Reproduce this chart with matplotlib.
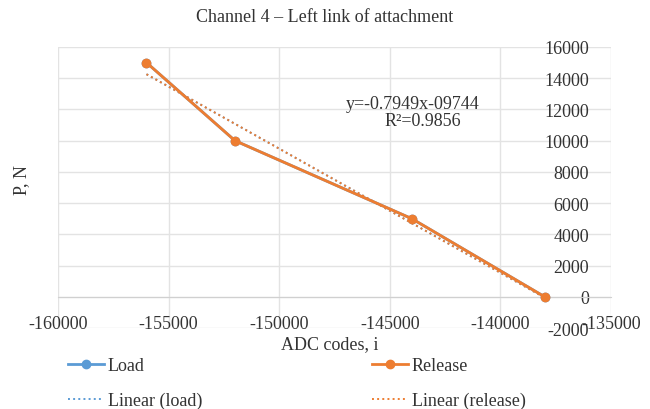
import numpy as np
import matplotlib
matplotlib.use("Agg")
import matplotlib.pyplot as plt
from matplotlib.ticker import MultipleLocator

plt.rcParams['font.family'] = ['Liberation Serif', 'DejaVu Serif']
plt.rcParams['axes.unicode_minus'] = False

# Data
adc_load = [-156000, -152000, -144000, -138000]
p_load = [15000, 10000, 5000, 0]
adc_release = [-156000, -152000, -144000, -138000]
p_release = [15000, 10000, 5000, 0]

title = "Channel 4 \u2013 Left link of attachment"
eq_text = "y=-0.7949x-09744"
r2_text = "R\u00b2=0.9856"

blue = '#5B9BD5'
orange = '#ED7D31'
txt = '#333333'
grid = '#E3E3E3'

fig = plt.figure(figsize=(6.5, 4.1), dpi=100)
ax = fig.add_axes([58/650, 1-329/410, (611-58)/650, (329-48)/410])

ax.set_xlim(-160000, -135000)
ax.set_ylim(-2000, 16000)
ax.xaxis.set_major_locator(MultipleLocator(5000))
ax.yaxis.set_major_locator(MultipleLocator(2000))
ax.grid(True, color=grid, lw=1)
ax.set_axisbelow(True)

for s in ['top', 'right', 'left']:
    ax.spines[s].set_visible(False)
ax.spines['bottom'].set_position(('data', 0))
ax.spines['bottom'].set_color('#D0D0D0')

# trendlines
cl = np.polyfit(adc_load, p_load, 1)
cr = np.polyfit(adc_release, p_release, 1)
xl = np.array([min(adc_load), max(adc_load)])
xr = np.array([min(adc_release), max(adc_release)])

h1, = ax.plot(adc_load, p_load, '-o', color=blue, lw=2, ms=6, label='Load', zorder=3)
h2, = ax.plot(adc_release, p_release, '-o', color=orange, lw=2, ms=6, label='Release', zorder=4)
h3, = ax.plot(xl, np.polyval(cl, xl), ':', color=blue, lw=1.4, label='Linear (load)', zorder=2)
h4, = ax.plot(xr, np.polyval(cr, xr), ':', color=orange, lw=1.4, label='Linear (release)', zorder=5)

ax.tick_params(axis='x', length=0, pad=13, labelsize=13, labelcolor=txt)
ax.tick_params(axis='y', length=0, left=False, labelleft=False, right=False,
               labelright=True, pad=-16, labelsize=13, labelcolor=txt)
for lab in ax.get_yticklabels():
    lab.set_horizontalalignment('right')

fig.text(0.5, 1-17/410, title, ha='center', va='center', fontsize=13, color=txt)
fig.text(330/650, 1-345/410, "ADC codes, i", ha='center', va='center', fontsize=13, color=txt)
fig.text(22/650, 1-180/410, "P, N", ha='center', va='center', rotation=90, fontsize=13, color=txt)

ax.text((413-58)/553, (329-105)/281, eq_text, transform=ax.transAxes,
        ha='center', va='center', fontsize=13, color=txt)
ax.text((423-58)/553, (329-122)/281, r2_text, transform=ax.transAxes,
        ha='center', va='center', fontsize=13, color=txt)

leg = fig.legend([h1, h3, h2, h4], ['Load', 'Linear (load)', 'Release', 'Linear (release)'],
                 ncol=2, loc='upper left',
                 bbox_to_anchor=(68/650, 1-358/410), frameon=False, borderaxespad=0,
                 borderpad=0,
                 fontsize=13, handlelength=2.0, handletextpad=0.2,
                 columnspacing=9.4, labelspacing=1.0, labelcolor=txt)

fig.savefig('out.png', dpi=100)
